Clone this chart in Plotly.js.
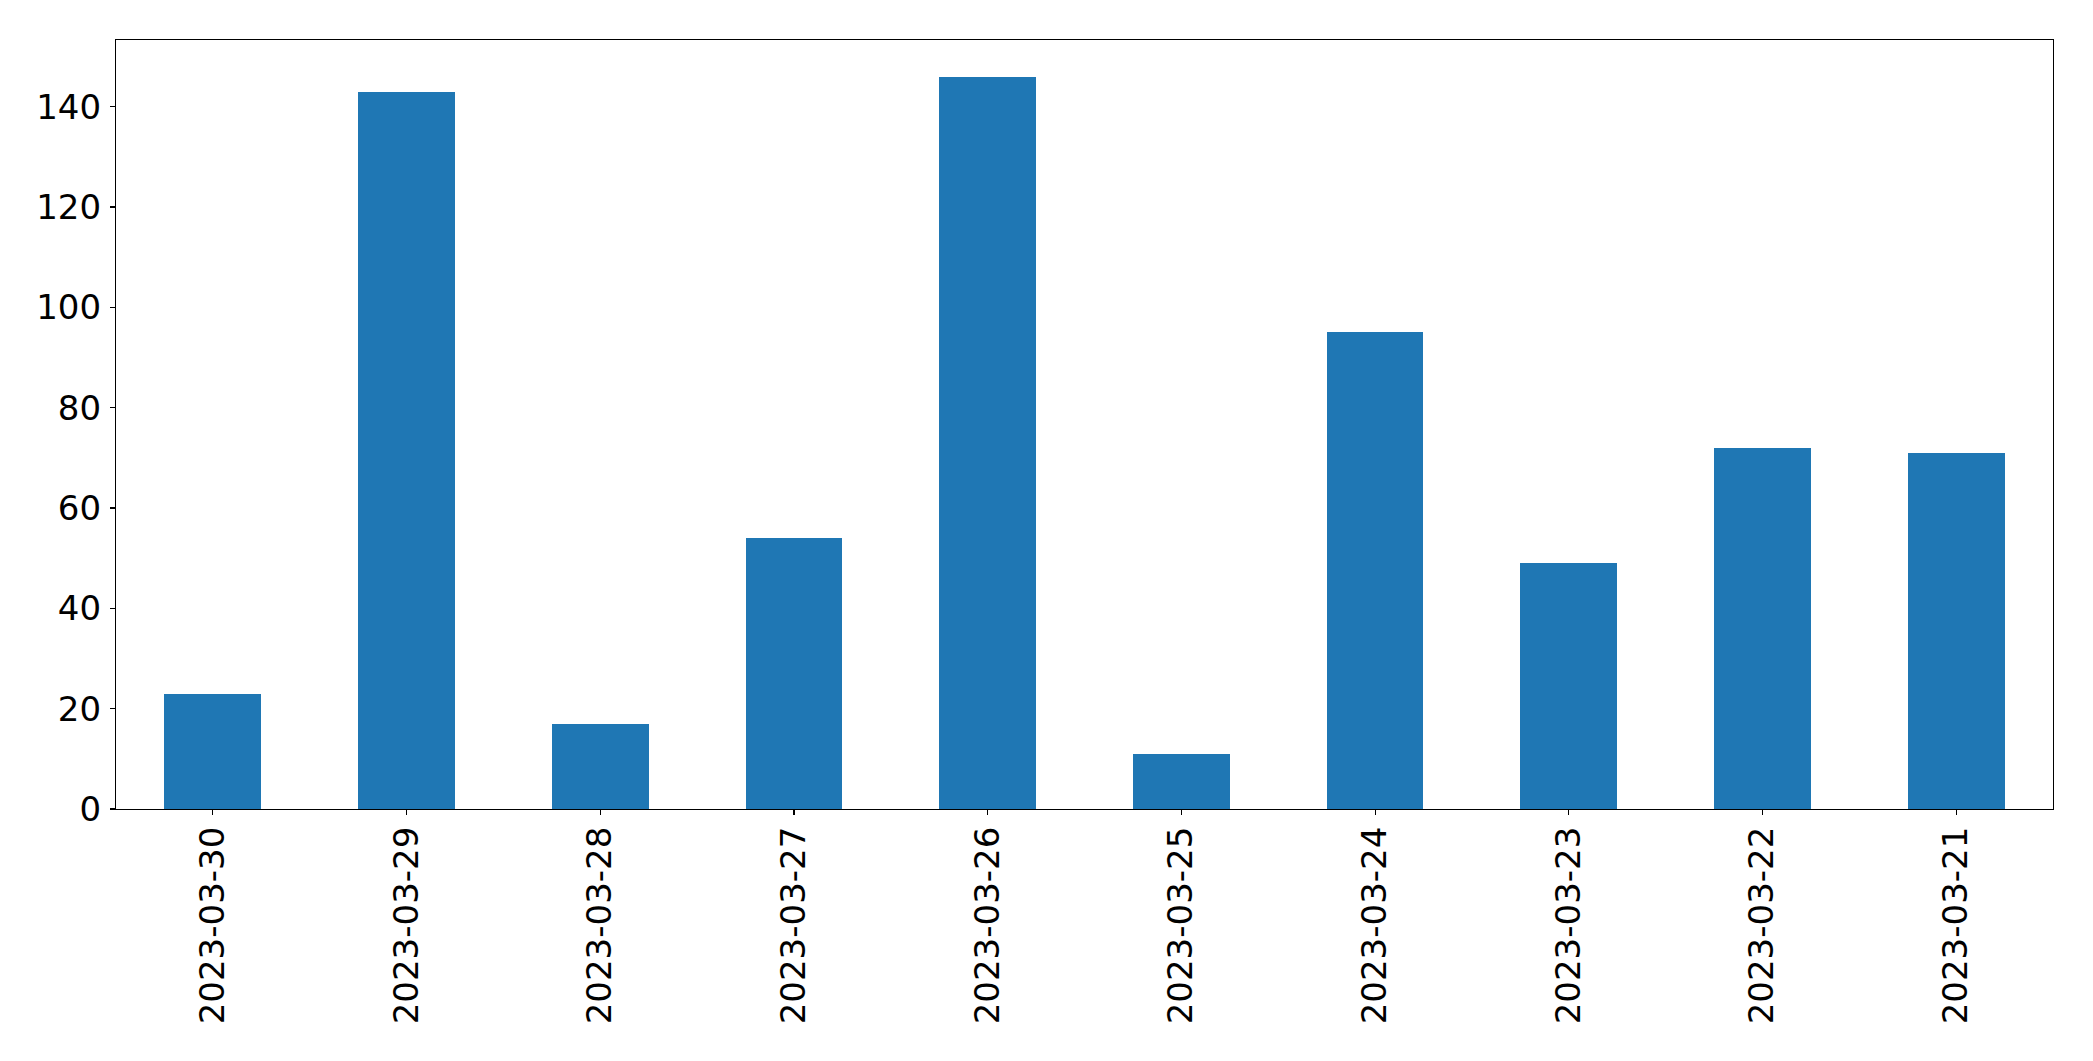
<!DOCTYPE html>
<html>
<head>
<meta charset="utf-8">
<script src="https://cdn.plot.ly/plotly-3.0.1.min.js"></script>
<style>html,body{margin:0;padding:0;background:#fff;}#chart{width:2093px;height:1061px;}</style>
</head>
<body>
<div id="chart"></div>
<script>
const categories = ["2023-03-30","2023-03-29","2023-03-28","2023-03-27","2023-03-26","2023-03-25","2023-03-24","2023-03-23","2023-03-22","2023-03-21"];
const values = [23, 143, 17, 54, 146, 11, 95, 49, 72, 71];
const yTicks = [0, 20, 40, 60, 80, 100, 120, 140];

const trace = {
  type: "bar",
  x: categories,
  y: values,
  width: 0.5,
  marker: {color: "#1f77b4", line: {width: 0}},
  hoverinfo: "x+y"
};

const font = {family: "DejaVu Sans, sans-serif", size: 34, color: "#000"};

const layout = {
  width: 2093,
  height: 1061,
  margin: {l: 116, r: 40, t: 40, b: 252, pad: 0},
  paper_bgcolor: "#fff",
  plot_bgcolor: "#fff",
  showlegend: false,
  bargap: 0,
  font: font,
  xaxis: {
    type: "category",
    range: [-0.5, 9.5],
    tickangle: -90,
    ticks: "outside",
    ticklen: 5,
    tickwidth: 1.1,
    tickcolor: "#000",
    ticklabelstandoff: -2,
    showline: true,
    linecolor: "#000",
    linewidth: 1.1,
    mirror: true,
    showgrid: false,
    zeroline: false,
    tickfont: font,
    fixedrange: true
  },
  yaxis: {
    range: [0, 153.3],
    tickmode: "array",
    tickvals: yTicks,
    ticktext: yTicks.map(String),
    ticks: "outside",
    ticklen: 5,
    tickwidth: 1.1,
    tickcolor: "#000",
    ticklabelstandoff: 2,
    showline: true,
    linecolor: "#000",
    linewidth: 1.1,
    mirror: true,
    showgrid: false,
    zeroline: false,
    tickfont: font,
    fixedrange: true
  }
};

Plotly.newPlot("chart", [trace], layout, {displayModeBar: false, staticPlot: true});
</script>
</body>
</html>
